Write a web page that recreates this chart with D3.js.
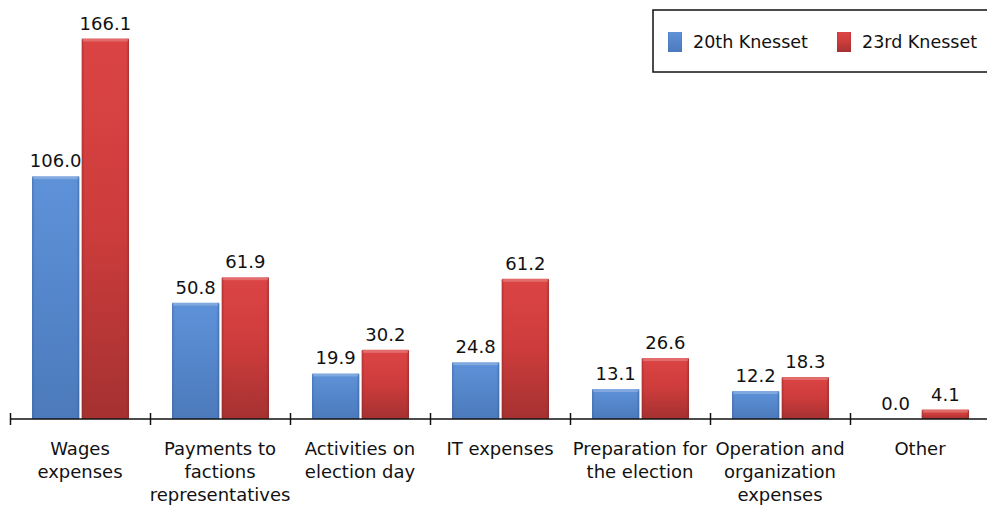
<!DOCTYPE html>
<html>
<head>
<meta charset="utf-8">
<script src="https://cdn.jsdelivr.net/npm/d3@7"></script>
<style>
  body { margin: 0; background: #fff; }
  svg { display: block; font-family: "DejaVu Sans", Verdana, sans-serif; }
</style>
</head>
<body>
<svg width="987" height="509"></svg>
<script>
var categories = [
  ['Wages', 'expenses'],
  ['Payments to', 'factions', 'representatives'],
  ['Activities on', 'election day'],
  ['IT expenses'],
  ['Preparation for', 'the election'],
  ['Operation and', 'organization', 'expenses'],
  ['Other']
];
var series = ['20th Knesset', '23rd Knesset'];
var knesset20 = [106.0, 50.8, 19.9, 24.8, 13.1, 12.2, 0.0];
var knesset23 = [166.1, 61.9, 30.2, 61.2, 26.6, 18.3, 4.1];

var svg = d3.select('svg'),
  width = +svg.attr('width'),
  height = +svg.attr('height');

var baseY = 419;

var x = d3.scaleBand()
  .domain(d3.range(categories.length))
  .range([10, 990]);

var xs = d3.scaleBand()
  .domain(series)
  .range([22, 119])
  .paddingInner(0.05);

var y = d3.scaleLinear()
  .domain([0, 166.1])
  .range([baseY, 38.5]);

// bar gradients
var defs = svg.append('defs');
var grads = [
  { id: 'gBlue', top: '#5e92d8', mid: '#5586cb', bot: '#4c7abb', edge: '#3a609c' },
  { id: 'gRed', top: '#dc4444', mid: '#cd3c3c', bot: '#a53131', edge: '#8a2626' }
];
grads.forEach(function(g) {
  var lg = defs.append('linearGradient')
    .attr('id', g.id).attr('x1', 0).attr('y1', 0).attr('x2', 0).attr('y2', 1);
  lg.append('stop').attr('offset', '0%').attr('stop-color', g.top);
  lg.append('stop').attr('offset', '50%').attr('stop-color', g.mid);
  lg.append('stop').attr('offset', '100%').attr('stop-color', g.bot);
  var sg = defs.append('linearGradient')
    .attr('id', g.id + 'Side').attr('x1', 0).attr('y1', 0).attr('x2', 1).attr('y2', 0);
  sg.append('stop').attr('offset', '0%').attr('stop-color', g.edge).attr('stop-opacity', 0.5);
  sg.append('stop').attr('offset', '6%').attr('stop-color', g.edge).attr('stop-opacity', 0);
  sg.append('stop').attr('offset', '94%').attr('stop-color', g.edge).attr('stop-opacity', 0);
  sg.append('stop').attr('offset', '100%').attr('stop-color', g.edge).attr('stop-opacity', 0.6);
});

var data = [];
categories.forEach(function(c, i) {
  data.push({ cat: i, s: series[0], v: knesset20[i], g: 'gBlue' });
  data.push({ cat: i, s: series[1], v: knesset23[i], g: 'gRed' });
});

var bars = svg.append('g').selectAll('g')
  .data(data.filter(function(d) { return d.v > 0; }))
  .enter().append('g')
  .attr('transform', function(d) {
    return 'translate(' + (x(d.cat) + xs(d.s)) + ',0)';
  });

bars.append('rect')
  .attr('y', function(d) { return y(d.v); })
  .attr('width', xs.bandwidth())
  .attr('height', function(d) { return baseY - y(d.v); })
  .attr('rx', 1.5)
  .attr('fill', function(d) { return 'url(#' + d.g + ')'; });

bars.append('rect')
  .attr('y', function(d) { return y(d.v); })
  .attr('width', xs.bandwidth())
  .attr('height', function(d) { return baseY - y(d.v); })
  .attr('fill', function(d) { return 'url(#' + d.g + 'Side)'; });

// top bevel highlight
bars.append('rect')
  .attr('x', 1)
  .attr('y', function(d) { return y(d.v); })
  .attr('width', xs.bandwidth() - 2)
  .attr('height', function(d) { return Math.min(3, baseY - y(d.v)); })
  .attr('fill', '#fff')
  .attr('opacity', 0.22);

// value labels
svg.append('g').selectAll('text')
  .data(data)
  .enter().append('text')
  .attr('x', function(d) { return x(d.cat) + xs(d.s) + xs.bandwidth() / 2; })
  .attr('y', function(d) { return y(d.v) - 9; })
  .attr('text-anchor', 'middle')
  .attr('font-size', 18)
  .attr('fill', '#111')
  .text(function(d) { return d.v.toFixed(1); });

// x axis
var axis = svg.append('g');
axis.append('line')
  .attr('x1', 10).attr('x2', width)
  .attr('y1', baseY).attr('y2', baseY)
  .attr('stroke', '#111').attr('stroke-width', 1.5);
axis.selectAll('.tick')
  .data(d3.range(categories.length))
  .enter().append('line')
  .attr('x1', function(d) { return x(d) + 0.5; })
  .attr('x2', function(d) { return x(d) + 0.5; })
  .attr('y1', baseY - 6).attr('y2', baseY + 6)
  .attr('stroke', '#111').attr('stroke-width', 1.5);

var labels = axis.selectAll('.lbl')
  .data(categories)
  .enter().append('text')
  .attr('text-anchor', 'middle')
  .attr('font-size', 18)
  .attr('fill', '#111');
labels.each(function(lines, i) {
  d3.select(this).selectAll('tspan')
    .data(lines)
    .enter().append('tspan')
    .attr('x', x(i) + x.bandwidth() / 2)
    .attr('y', function(d, j) { return 455 + j * 23; })
    .text(function(d) { return d; });
});

// legend
var legend = svg.append('g');
legend.append('rect')
  .attr('x', 653).attr('y', 10)
  .attr('width', 360).attr('height', 62)
  .attr('fill', '#fff')
  .attr('stroke', '#111').attr('stroke-width', 1.5);
var items = [
  { s: series[0], g: 'gBlue', x: 668 },
  { s: series[1], g: 'gRed', x: 837 }
];
var li = legend.selectAll('.item')
  .data(items)
  .enter().append('g')
  .attr('transform', function(d) { return 'translate(' + d.x + ',32)'; });
li.append('rect')
  .attr('width', 14).attr('height', 20)
  .attr('fill', function(d) { return 'url(#' + d.g + ')'; });
li.append('rect')
  .attr('width', 14).attr('height', 20)
  .attr('fill', function(d) { return 'url(#' + d.g + 'Side)'; });
li.append('text')
  .attr('x', 25).attr('y', 16)
  .attr('font-size', 17.5)
  .attr('fill', '#111')
  .text(function(d) { return d.s; });
</script>
</body>
</html>
